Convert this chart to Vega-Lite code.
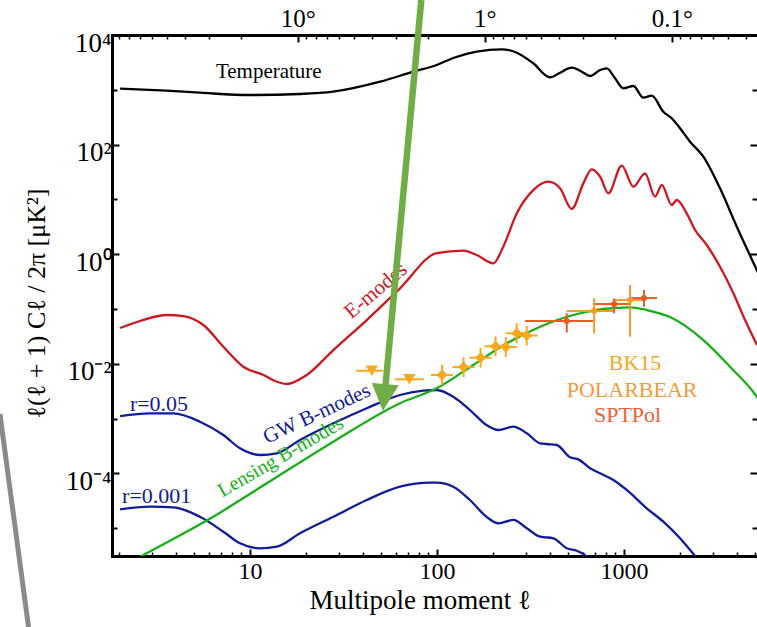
{
 "$schema": "https://vega.github.io/schema/vega-lite/v6.json",
 "width": 645, "height": 521,
 "autosize": {"type": "none"},
 "padding": {"left": 112, "top": 35, "right": 0, "bottom": 71},
 "background": "white",
 "config": {"view": {"stroke": null}, "axis": {"grid": false}},
 "datasets": {
  "curves": [
   {"s":"T","l":2.02,"D":1047},{"s":"T","l":3.58,"D":962},{"s":"T","l":5.4,"D":885},{"s":"T","l":10,"D":803},{"s":"T","l":18.5,"D":838},{"s":"T","l":27.8,"D":923},{"s":"T","l":49.6,"D":1405},{"s":"T","l":74.7,"D":2140},{"s":"T","l":99.6,"D":2833},{"s":"T","l":122,"D":3802},{"s":"T","l":163,"D":4955},{"s":"T","l":222,"D":5483},{"s":"T","l":267,"D":4753},{"s":"T","l":327,"D":3045},{"s":"T","l":402,"D":1690},{"s":"T","l":455,"D":2050},{"s":"T","l":525,"D":2530},{"s":"T","l":594,"D":2140},{"s":"T","l":658,"D":1785},{"s":"T","l":745,"D":2297},{"s":"T","l":808,"D":2466},{"s":"T","l":895,"D":1620},{"s":"T","l":991,"D":1065},{"s":"T","l":1122,"D":1173},{"s":"T","l":1268,"D":717},{"s":"T","l":1406,"D":780},{"s":"T","l":1622,"D":398},{"s":"T","l":1799,"D":302},{"s":"T","l":1951,"D":218},{"s":"T","l":2254,"D":113},{"s":"T","l":2655,"D":60.1},{"s":"T","l":3260,"D":15.9},{"s":"T","l":4008,"D":3.17},{"s":"T","l":5125,"D":0.514},{"s":"T","l":5300,"D":0.4},
   {"s":"E","l":2.02,"D":0.0449},{"s":"E","l":2.58,"D":0.0603},{"s":"E","l":3.58,"D":0.0776},{"s":"E","l":4.4,"D":0.0743},{"s":"E","l":5.63,"D":0.0509},{"s":"E","l":7.2,"D":0.0205},{"s":"E","l":9.21,"D":0.00883},{"s":"E","l":11.8,"D":0.00623},{"s":"E","l":13.6,"D":0.00484},{"s":"E","l":15.7,"D":0.00427},{"s":"E","l":20.1,"D":0.00623},{"s":"E","l":27.9,"D":0.0178},{"s":"E","l":42.1,"D":0.0628},{"s":"E","l":63.4,"D":0.238},{"s":"E","l":99.6,"D":1.04},{"s":"E","l":138,"D":1.16},{"s":"E","l":163,"D":0.966},{"s":"E","l":200,"D":0.681},{"s":"E","l":226,"D":1.37},{"s":"E","l":267,"D":5.57},{"s":"E","l":327,"D":14.8},{"s":"E","l":394,"D":21.0},{"s":"E","l":455,"D":15.9},{"s":"E","l":525,"D":6.67},{"s":"E","l":606,"D":19.6},{"s":"E","l":672,"D":35.4},{"s":"E","l":745,"D":25.9},{"s":"E","l":824,"D":12.9},{"s":"E","l":972,"D":41.2},{"s":"E","l":1122,"D":17.0},{"s":"E","l":1295,"D":29.9},{"s":"E","l":1465,"D":11.2},{"s":"E","l":1591,"D":18.3},{"s":"E","l":1799,"D":7.89},{"s":"E","l":1914,"D":9.74},{"s":"E","l":2163,"D":5.57},{"s":"E","l":2399,"D":2.76},{"s":"E","l":2768,"D":1.47},{"s":"E","l":3260,"D":0.59},{"s":"E","l":3843,"D":0.193},{"s":"E","l":4436,"D":0.0628},{"s":"E","l":5140,"D":0.022},
   {"s":"B05","l":2.02,"D":0.00111},{"s":"B05","l":2.92,"D":0.00124},{"s":"B05","l":3.89,"D":0.00124},{"s":"B05","l":5.4,"D":0.000875},{"s":"B05","l":7.2,"D":0.0005},{"s":"B05","l":8.84,"D":0.000286},{"s":"B05","l":11.3,"D":0.000216},{"s":"B05","l":13.9,"D":0.000232},{"s":"B05","l":18.5,"D":0.000406},{"s":"B05","l":27.9,"D":0.000818},{"s":"B05","l":42.1,"D":0.00154},{"s":"B05","l":63.4,"D":0.00269},{"s":"B05","l":84.5,"D":0.00322},{"s":"B05","l":99.6,"D":0.00332},{"s":"B05","l":122,"D":0.0025},{"s":"B05","l":150,"D":0.00143},{"s":"B05","l":184,"D":0.000762},{"s":"B05","l":213,"D":0.000618},{"s":"B05","l":256,"D":0.00071},{"s":"B05","l":302,"D":0.000537},{"s":"B05","l":356,"D":0.000353},{"s":"B05","l":386,"D":0.000343},{"s":"B05","l":437,"D":0.000329},{"s":"B05","l":514,"D":0.000196},{"s":"B05","l":570,"D":0.00018},{"s":"B05","l":658,"D":0.000124},{"s":"B05","l":745,"D":0.0001},{"s":"B05","l":877,"D":0.0000755},{"s":"B05","l":1033,"D":0.0000497},{"s":"B05","l":1322,"D":0.000023},{"s":"B05","l":1622,"D":0.0000131},{"s":"B05","l":1992,"D":0.00000652},{"s":"B05","l":2349,"D":0.00000337},{"s":"B05","l":2549,"D":0.0000024},
   {"s":"B001","l":2.02,"D":0.000022},{"s":"B001","l":2.92,"D":0.0000246},{"s":"B001","l":3.89,"D":0.000024},{"s":"B001","l":5.4,"D":0.0000161},{"s":"B001","l":7.2,"D":0.00000861},{"s":"B001","l":8.84,"D":0.00000528},{"s":"B001","l":11.3,"D":0.00000428},{"s":"B001","l":13.9,"D":0.00000458},{"s":"B001","l":18.5,"D":0.00000804},{"s":"B001","l":27.9,"D":0.0000161},{"s":"B001","l":42.1,"D":0.0000326},{"s":"B001","l":63.4,"D":0.000057},{"s":"B001","l":91.8,"D":0.0000675},{"s":"B001","l":99.6,"D":0.0000675},{"s":"B001","l":122,"D":0.000057},{"s":"B001","l":150,"D":0.0000326},{"s":"B001","l":184,"D":0.0000161},{"s":"B001","l":213,"D":0.0000122},{"s":"B001","l":256,"D":0.0000141},{"s":"B001","l":302,"D":0.00000991},{"s":"B001","l":356,"D":0.00000697},{"s":"B001","l":419,"D":0.00000652},{"s":"B001","l":494,"D":0.00000428},{"s":"B001","l":558,"D":0.00000387},{"s":"B001","l":606,"D":0.00000337},{"s":"B001","l":658,"D":0.00000262},
   {"s":"L","l":2.28,"D":0.00000236},{"s":"L","l":2.8,"D":0.00000347},{"s":"L","l":6.36,"D":0.0000161},{"s":"L","l":12.3,"D":0.0000658},{"s":"L","l":27.9,"D":0.000378},{"s":"L","l":63.4,"D":0.0019},{"s":"L","l":99.6,"D":0.00356},{"s":"L","l":156,"D":0.00948},{"s":"L","l":236,"D":0.0236},{"s":"L","l":356,"D":0.0474},{"s":"L","l":535,"D":0.0776},{"s":"L","l":775,"D":0.0998},{"s":"L","l":1077,"D":0.107},{"s":"L","l":1322,"D":0.0957},{"s":"L","l":1762,"D":0.0713},{"s":"L","l":2655,"D":0.0271},{"s":"L","l":3687,"D":0.00883},{"s":"L","l":5125,"D":0.0025},{"s":"L","l":5300,"D":0.0021}
  ],
  "pts": [
   {"exp":"BK15","ul":true,"l":44.8,"lmin":36.9,"lmax":51.4,"D":0.00746},
   {"exp":"BK15","ul":true,"l":71.1,"lmin":59.7,"lmax":85.1,"D":0.0052},
   {"exp":"BK15","ul":false,"l":106.4,"lmin":92.9,"lmax":121.8,"D":0.00623,"Dmin":0.0041,"Dmax":0.0095},
   {"exp":"BK15","ul":false,"l":138.6,"lmin":121,"lmax":159,"D":0.0087,"Dmin":0.00572,"Dmax":0.0132},
   {"exp":"BK15","ul":false,"l":170.9,"lmin":149,"lmax":196,"D":0.0129,"Dmin":0.0085,"Dmax":0.0196},
   {"exp":"BK15","ul":false,"l":205.5,"lmin":179,"lmax":235,"D":0.0208,"Dmin":0.0137,"Dmax":0.0316},
   {"exp":"BK15","ul":false,"l":233,"lmin":203,"lmax":267,"D":0.0202,"Dmin":0.0133,"Dmax":0.0307},
   {"exp":"BK15","ul":false,"l":266.7,"lmin":233,"lmax":305,"D":0.036,"Dmin":0.0237,"Dmax":0.0547},
   {"exp":"BK15","ul":false,"l":301.7,"lmin":263,"lmax":345,"D":0.0327,"Dmin":0.0215,"Dmax":0.0497},
   {"exp":"SPTPol","ul":false,"l":494,"lmin":296,"lmax":683,"D":0.0603,"Dmin":0.0372,"Dmax":0.0834},
   {"exp":"SPTPol","ul":false,"l":885,"lmin":692,"lmax":1077,"D":0.123,"Dmin":0.0834,"Dmax":0.156},
   {"exp":"SPTPol","ul":false,"l":1279,"lmin":1077,"lmax":1500,"D":0.158,"Dmin":0.11,"Dmax":0.222},
   {"exp":"POLARBEAR","ul":false,"l":692,"lmin":494,"lmax":885,"D":0.0918,"Dmin":0.0357,"Dmax":0.156},
   {"exp":"POLARBEAR","ul":false,"l":1077,"lmin":885,"lmax":1300,"D":0.146,"Dmin":0.0311,"Dmax":0.273}
  ]
 },
 "layer": [
  {
   "data": {"name": "curves"},
   "mark": {"type": "line", "strokeWidth": 2.3, "clip": true, "interpolate": "monotone"},
   "encoding": {
    "x": {"field": "l", "type": "quantitative",
     "scale": {"type": "log", "domain": [1.828, 5140], "nice": false},
     "axis": {
      "orient": "bottom",
      "values": [2,3,4,5,6,7,8,9,10,20,30,40,50,60,70,80,90,100,200,300,400,500,600,700,800,900,1000,2000,3000,4000,5000],
      "labelExpr": "datum.value == 10 ? '10' : datum.value == 100 ? '100' : datum.value == 1000 ? '1000' : ''",
      "tickSize": {"condition": {"test": "datum.value == 10 || datum.value == 100 || datum.value == 1000", "value": -7}, "value": -4},
      "tickWidth": {"condition": {"test": "datum.value == 10 || datum.value == 100 || datum.value == 1000", "value": 2}, "value": 1.5},
      "tickColor": "black",
      "labelPadding": 10,
      "labelFont": "Liberation Serif", "labelFontSize": 24, "labelColor": "black",
      "labelOverlap": false, "labelFlush": false, "labelBound": false,
      "domainColor": "black", "domainWidth": 3, "domainCap": "square",
      "title": "Multipole moment ℓ",
      "titleFont": "Liberation Serif", "titleFontSize": 27, "titleFontWeight": "normal", "titleColor": "black",
      "titleX": 197, "titleY": 52, "titleAlign": "left", "titleBaseline": "alphabetic"
     }},
    "y": {"field": "D", "type": "quantitative",
     "scale": {"type": "log", "domain": [0.0000031, 10000], "nice": false},
     "axis": {
      "orient": "left",
      "values": [0.00001,0.0001,0.001,0.01,0.1,1,10,100,1000,10000],
      "labelExpr": "datum.value == 10000 ? '10⁴' : datum.value == 100 ? '10²' : datum.value == 1 ? '10⁰' : datum.value == 0.01 ? '10⁻²' : datum.value == 0.0001 ? '10⁻⁴' : ''",
      "tickSize": {"condition": {"test": "datum.value == 10000 || datum.value == 100 || datum.value == 1 || datum.value == 0.01 || datum.value == 0.0001", "value": -7}, "value": -5},
      "tickWidth": 2, "tickColor": "black",
      "labelPadding": 8, "labelOffset": 8, "labelBaseline": "middle",
      "labelFont": "Liberation Serif", "labelFontSize": 27, "labelColor": "black",
      "labelOverlap": false, "labelFlush": false, "labelBound": false,
      "domainColor": "black", "domainWidth": 3, "domainCap": "square",
      "title": "ℓ(ℓ + 1) Cℓ / 2π [μK²]",
      "titleFont": "Liberation Serif", "titleFontSize": 26, "titleFontWeight": "normal", "titleColor": "black",
      "titleX": -68, "titleY": 268, "titleAngle": 270, "titleAlign": "center", "titleBaseline": "alphabetic"
     }},
    "color": {"field": "s", "type": "nominal",
     "scale": {"domain": ["T","E","B05","B001","L"], "range": ["#000000","#d0161e","#101c99","#101c99","#16b016"]},
     "legend": null}
   }
  },
  {
   "data": {"name": "curves"},
   "mark": {"type": "point", "opacity": 0},
   "encoding": {
    "x": {"field": "l", "type": "quantitative",
     "scale": {"type": "log", "domain": [1.828, 5140], "nice": false},
     "axis": {
      "orient": "top",
      "values": [2,2.25,2.5714,3,3.6,4.5,6,9,18,20,22.5,25.714,30,36,45,60,90,180,200,225,257.14,300,360,450,600,900,1800,2000,2250,2571.4,3000,3600,4500],
      "labelExpr": "datum.value == 18 ? '10°' : datum.value == 180 ? '1°' : datum.value == 1800 ? '0.1°' : ''",
      "tickSize": {"condition": {"test": "datum.value == 18 || datum.value == 180 || datum.value == 1800", "value": -7}, "value": -4},
      "tickWidth": {"condition": {"test": "datum.value == 18 || datum.value == 180 || datum.value == 1800", "value": 2}, "value": 1.5},
      "tickColor": "black",
      "labelPadding": 11,
      "labelFont": "Liberation Serif", "labelFontSize": 25, "labelColor": "black",
      "labelOverlap": false, "labelFlush": false, "labelBound": false,
      "domainColor": "black", "domainWidth": 3, "domainCap": "square",
      "title": null
     }},
    "y": {"field": "D", "type": "quantitative",
     "scale": {"type": "log", "domain": [0.0000031, 10000], "nice": false},
     "axis": {
      "orient": "right",
      "values": [0.00001,0.0001,0.001,0.01,0.1,1,10,100,1000,10000],
      "labels": false, "domain": false, "title": null,
      "tickSize": {"condition": {"test": "datum.value == 10000 || datum.value == 100 || datum.value == 1 || datum.value == 0.01 || datum.value == 0.0001", "value": -7}, "value": -5},
      "tickWidth": 2, "tickColor": "black"
     }}
   }
  },
  {
   "data": {"name": "pts"},
   "mark": {"type": "rule", "strokeWidth": 2},
   "encoding": {
    "x": {"field": "lmin", "type": "quantitative", "scale": {"type": "log", "domain": [1.828, 5140], "nice": false}, "axis": null},
    "x2": {"field": "lmax"},
    "y": {"field": "D", "type": "quantitative", "scale": {"type": "log", "domain": [0.0000031, 10000], "nice": false}, "axis": null},
    "color": {"field": "exp", "type": "nominal", "scale": {"domain": ["BK15","POLARBEAR","SPTPol"], "range": ["#f7a81b","#f39a2e","#ee5a24"]}, "legend": null}
   }
  },
  {
   "data": {"name": "pts"},
   "transform": [{"filter": "!datum.ul"}],
   "mark": {"type": "rule", "strokeWidth": 2},
   "encoding": {
    "x": {"field": "l", "type": "quantitative", "scale": {"type": "log", "domain": [1.828, 5140], "nice": false}, "axis": null},
    "y": {"field": "Dmin", "type": "quantitative", "scale": {"type": "log", "domain": [0.0000031, 10000], "nice": false}, "axis": null},
    "y2": {"field": "Dmax"},
    "color": {"field": "exp", "type": "nominal", "scale": {"domain": ["BK15","POLARBEAR","SPTPol"], "range": ["#f7a81b","#f39a2e","#ee5a24"]}, "legend": null}
   }
  },
  {
   "data": {"name": "pts"},
   "transform": [{"filter": "!datum.ul && datum.exp == 'BK15'"}],
   "mark": {"type": "point", "shape": "diamond", "filled": true, "size": 120, "opacity": 1, "color": "#f7a81b"},
   "encoding": {
    "x": {"field": "l", "type": "quantitative", "scale": {"type": "log", "domain": [1.828, 5140], "nice": false}, "axis": null},
    "y": {"field": "D", "type": "quantitative", "scale": {"type": "log", "domain": [0.0000031, 10000], "nice": false}, "axis": null}
   }
  },
  {
   "data": {"name": "pts"},
   "transform": [{"filter": "datum.exp != 'BK15'"}],
   "mark": {"type": "point", "shape": "circle", "filled": true, "size": 36, "opacity": 1},
   "encoding": {
    "x": {"field": "l", "type": "quantitative", "scale": {"type": "log", "domain": [1.828, 5140], "nice": false}, "axis": null},
    "y": {"field": "D", "type": "quantitative", "scale": {"type": "log", "domain": [0.0000031, 10000], "nice": false}, "axis": null},
    "color": {"field": "exp", "type": "nominal", "scale": {"domain": ["BK15","POLARBEAR","SPTPol"], "range": ["#f7a81b","#f39a2e","#ee5a24"]}, "legend": null}
   }
  },
  {
   "data": {"name": "pts"},
   "transform": [{"filter": "datum.ul"}],
   "mark": {"type": "point", "shape": "triangle-down", "filled": true, "size": 150, "opacity": 1, "color": "#f7a81b"},
   "encoding": {
    "x": {"field": "l", "type": "quantitative", "scale": {"type": "log", "domain": [1.828, 5140], "nice": false}, "axis": null},
    "y": {"field": "D", "type": "quantitative", "scale": {"type": "log", "domain": [0.0000031, 10000], "nice": false}, "axis": null}
   }
  },
  {
   "data": {"values": [{"t": "Temperature", "l": 12.6, "D": 2113}]},
   "mark": {"type": "text", "font": "Liberation Serif", "fontSize": 21, "color": "black", "align": "center", "baseline": "middle"},
   "encoding": {
    "x": {"field": "l", "type": "quantitative", "scale": {"type": "log", "domain": [1.828, 5140], "nice": false}, "axis": null},
    "y": {"field": "D", "type": "quantitative", "scale": {"type": "log", "domain": [0.0000031, 10000], "nice": false}, "axis": null},
    "text": {"field": "t"}
   }
  },
  {
   "data": {"values": [{"t": "E-modes", "l": 47.2, "D": 0.213}]},
   "mark": {"type": "text", "font": "Liberation Serif", "fontSize": 21, "color": "#d0161e", "align": "center", "baseline": "middle", "angle": 320},
   "encoding": {
    "x": {"field": "l", "type": "quantitative", "scale": {"type": "log", "domain": [1.828, 5140], "nice": false}, "axis": null},
    "y": {"field": "D", "type": "quantitative", "scale": {"type": "log", "domain": [0.0000031, 10000], "nice": false}, "axis": null},
    "text": {"field": "t"}
   }
  },
  {
   "data": {"values": [{"t": "GW B-modes", "l": 22.8, "D": 0.00121}]},
   "mark": {"type": "text", "font": "Liberation Serif", "fontSize": 21, "color": "#101c99", "align": "center", "baseline": "middle", "angle": 335},
   "encoding": {
    "x": {"field": "l", "type": "quantitative", "scale": {"type": "log", "domain": [1.828, 5140], "nice": false}, "axis": null},
    "y": {"field": "D", "type": "quantitative", "scale": {"type": "log", "domain": [0.0000031, 10000], "nice": false}, "axis": null},
    "text": {"field": "t"}
   }
  },
  {
   "data": {"values": [{"t": "Lensing B-modes", "l": 14.6, "D": 0.0002}]},
   "mark": {"type": "text", "font": "Liberation Serif", "fontSize": 20, "color": "#16b016", "align": "center", "baseline": "middle", "angle": 330},
   "encoding": {
    "x": {"field": "l", "type": "quantitative", "scale": {"type": "log", "domain": [1.828, 5140], "nice": false}, "axis": null},
    "y": {"field": "D", "type": "quantitative", "scale": {"type": "log", "domain": [0.0000031, 10000], "nice": false}, "axis": null},
    "text": {"field": "t"}
   }
  },
  {
   "data": {"values": [{"t": "r=0.05", "l": 3.26, "D": 0.00184}, {"t": "r=0.001", "l": 3.17, "D": 0.0000386}]},
   "mark": {"type": "text", "font": "Liberation Serif", "fontSize": 22, "color": "#101c99", "align": "center", "baseline": "middle"},
   "encoding": {
    "x": {"field": "l", "type": "quantitative", "scale": {"type": "log", "domain": [1.828, 5140], "nice": false}, "axis": null},
    "y": {"field": "D", "type": "quantitative", "scale": {"type": "log", "domain": [0.0000031, 10000], "nice": false}, "axis": null},
    "text": {"field": "t"}
   }
  },
  {
   "data": {"values": [{"t": "BK15", "l": 1145, "D": 0.01014}, {"t": "POLARBEAR", "l": 1104, "D": 0.00326}, {"t": "SPTPol", "l": 1044, "D": 0.00114}]},
   "mark": {"type": "text", "font": "Liberation Serif", "fontSize": 22, "align": "center", "baseline": "middle"},
   "encoding": {
    "x": {"field": "l", "type": "quantitative", "scale": {"type": "log", "domain": [1.828, 5140], "nice": false}, "axis": null},
    "y": {"field": "D", "type": "quantitative", "scale": {"type": "log", "domain": [0.0000031, 10000], "nice": false}, "axis": null},
    "text": {"field": "t"},
    "color": {"field": "t", "type": "nominal", "scale": {"domain": ["BK15","POLARBEAR","SPTPol"], "range": ["#f5a623","#f39a37","#ee5f35"]}, "legend": null}
   }
  },
  {
   "data": {"values": [{"l1": 0.46, "D1": 0.00121, "l2": 0.668, "D2": 0.000000091}]},
   "mark": {"type": "rule", "color": "#8a8a8a", "strokeWidth": 5, "clip": false},
   "encoding": {
    "x": {"field": "l1", "type": "quantitative", "scale": {"type": "log", "domain": [1.828, 5140], "nice": false}, "axis": null},
    "y": {"field": "D1", "type": "quantitative", "scale": {"type": "log", "domain": [0.0000031, 10000], "nice": false}, "axis": null},
    "x2": {"field": "l2"},
    "y2": {"field": "D2"}
   }
  },
  {
   "data": {"values": [{"l1": 82.4, "D1": 43550, "l2": 53.0, "D2": 0.00393}]},
   "mark": {"type": "rule", "color": "#70ad47", "strokeWidth": 6.5, "clip": false},
   "encoding": {
    "x": {"field": "l1", "type": "quantitative", "scale": {"type": "log", "domain": [1.828, 5140], "nice": false}, "axis": null},
    "y": {"field": "D1", "type": "quantitative", "scale": {"type": "log", "domain": [0.0000031, 10000], "nice": false}, "axis": null},
    "x2": {"field": "l2"},
    "y2": {"field": "D2"}
   }
  },
  {
   "data": {"values": [{"l": 52.1, "D": 0.00242}]},
   "mark": {"type": "point", "shape": "M-1,-1L1,-1L0,1Z", "filled": true, "size": 729, "opacity": 1, "color": "#70ad47", "angle": 5, "clip": false},
   "encoding": {
    "x": {"field": "l", "type": "quantitative", "scale": {"type": "log", "domain": [1.828, 5140], "nice": false}, "axis": null},
    "y": {"field": "D", "type": "quantitative", "scale": {"type": "log", "domain": [0.0000031, 10000], "nice": false}, "axis": null}
   }
  }
 ],
 "resolve": {
  "axis": {"x": "independent", "y": "independent"},
  "scale": {"color": "independent"}
 }
}
